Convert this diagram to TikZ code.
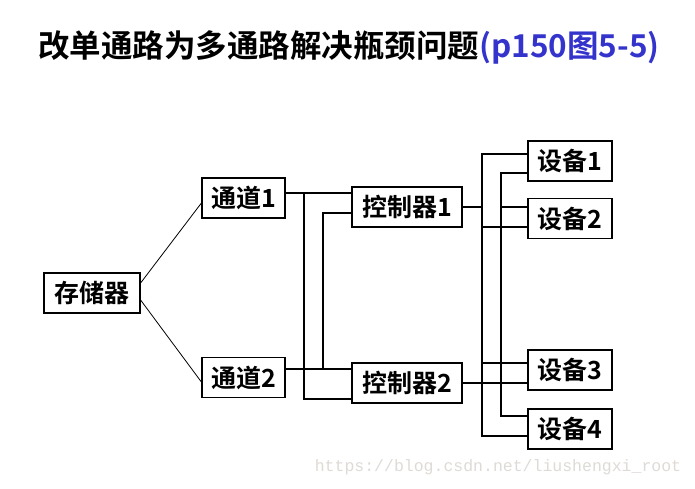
\documentclass[tikz,border=0pt]{standalone}
\usepackage{fontspec}
\usepackage{xcolor}
\setmainfont{Noto Sans CJK SC}[BoldFont={Noto Sans CJK SC Bold}]
\newfontfamily\markfont{Liberation Mono}
\definecolor{titleblue}{RGB}{52,52,204}
\definecolor{markgray}{RGB}{222,218,214}

\tikzset{
    box/.style={draw, line width=1.2pt, inner sep=0pt, minimum height=40pt,
        font=\fontsize{25pt}{25pt}\selectfont\bfseries},
    wire/.style={line width=1.2pt}
}

\begin{document}
\begin{tikzpicture}
    \useasboundingbox (0pt, 0pt) rectangle (695pt, -488pt);

    % Title
    \node (title) at (349pt, -47pt) {\fontsize{31.5pt}{31.5pt}\selectfont\bfseries
        改单通路为多通路解决瓶颈问题\textcolor{titleblue}{(p150图5-5)}};

    % Nodes
    \node[box, minimum width=96pt] (ccq) at (92pt, -293pt) {存储器};

    \node[box, minimum width=83pt] (td1) at (243.5pt, -198pt) {通道1};
    \node[box, minimum width=83pt] (td2) at (243.5pt, -377.5pt) {通道2};

    \node[box, minimum width=110pt] (kzq1) at (407pt, -207pt) {控制器1};
    \node[box, minimum width=110pt] (kzq2) at (407pt, -383pt) {控制器2};

    \node[box, minimum width=84pt] (sb1) at (570pt, -161pt) {设备1};
    \node[box, minimum width=84pt] (sb2) at (570pt, -218.5pt) {设备2};
    \node[box, minimum width=84pt] (sb3) at (570pt, -370pt) {设备3};
    \node[box, minimum width=84pt] (sb4) at (570pt, -429pt) {设备4};
%   bus x:  304 / 323 between channels and controllers, 482 / 501 before devices
    \coordinate (v1) at (304pt, -193pt);
    \coordinate (v2) at (323pt, -369pt);
    \coordinate (b1) at (482pt, -207pt);
    \coordinate (b2) at (501pt, -383pt);

    % Lines
    \draw[wire, line width=0.8pt] ([yshift=10pt]ccq.east) -- ([yshift=-5pt]td1.west);
    \draw[wire, line width=0.8pt] ([yshift=-7pt]ccq.east) -- ([yshift=-4.5pt]td2.west);

    \draw[wire] ([yshift=5pt]td1.east) -- ([yshift=14pt]kzq1.west);
    \draw[wire] (v1) |- ([yshift=-16pt]kzq2.west);
    \draw[wire] ([yshift=8.5pt]td2.east) -- ([yshift=14pt]kzq2.west);
    \draw[wire] (v2) |- ([yshift=-6pt]kzq1.west);

    \draw[wire] (kzq1.east) -- (b1);
    \draw[wire] ([yshift=7pt]sb1.west) -| (b1) |- ([yshift=-7pt]sb4.west);
    \draw[wire] ([yshift=-8.5pt]sb2.west) -- ([yshift=-8.5pt]sb2.west -| b1);
    \draw[wire] ([yshift=7pt]sb3.west) -- ([yshift=7pt]sb3.west -| b1);

    \draw[wire] (kzq2.east) -- ([yshift=-13pt]sb3.west);
    \draw[wire] ([yshift=-12pt]sb1.west) -| (b2) |- ([yshift=13pt]sb4.west);
    \draw[wire] ([yshift=11.5pt]sb2.west) -- ([yshift=11.5pt]sb2.west -| b2);

    % Watermark
    \node[text=markgray, font=\markfont\fontsize{16.5pt}{16.5pt}\selectfont] (mark)
        at (498pt, -467pt) {https://blog.csdn.net/liushengxi\_root};
\end{tikzpicture}
\end{document}
